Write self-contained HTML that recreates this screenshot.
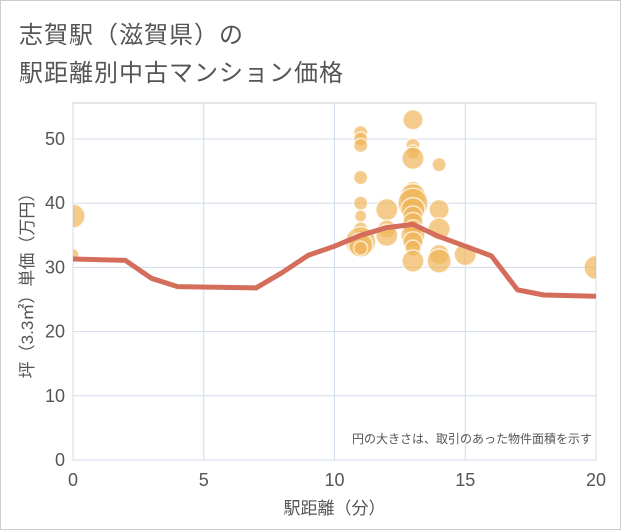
<!DOCTYPE html>
<html><head><meta charset="utf-8"><style>
body{margin:0;background:#fff;font-family:"Liberation Sans","Noto Sans CJK JP",sans-serif;}
#wrap{position:relative;width:619px;height:528px;border:1px solid #ccc;}
.t{position:absolute;left:18px;color:#555;font-size:24px;letter-spacing:1px;}
</style></head><body>
<div id="wrap">
<div class="t" style="top:14px">志賀駅（滋賀県）の</div>
<div class="t" style="top:52px">駅距離別中古マンション価格</div>
<svg id="c" width="621" height="530" style="position:absolute;left:-1px;top:-1px"><defs><clipPath id="pc"><rect x="73" y="103" width="523" height="357"/></clipPath></defs></svg>
</div>
<script>
const lineX=[0,2,3,4,7,8,9,10,11,12,13,14,15,16,17,18,20];
const lineY=[31.3,31.1,28.3,27,26.8,29.2,31.9,33.3,35,36.2,36.7,34.8,33.3,31.8,26.5,25.7,25.5];
const bubX=[0,0,11,11,11,11,11,11,11,11,11,11,11,12,12,12,13,13,13,13,13,13,13,13,13,13,13,13,13,13,13,14,14,14,14,14,15,20];
const bubY=[38,32,51,50,49,44,40,38,36,35,34,33.5,33,39,36,35,53,49,48,47,42,41,40,39,38,37,36,35,34,33,31,46,39,36,32,31,32,30];
const bubR=[12,6,7,7,7,7,7,6,7,6,15,12,7,11,9,11,10,7,7,11,9,13,15,12,10,10,9,12,10,8,11,7,10,11,10,12,11,12];
const xTicks=[0,5,10,15,20];
const yTicks=[0,10,20,30,40,50];
const L=73,R=596,T=103,B=460;
const sx=v=>L+(R-L)*v/20, sy=v=>B-(B-139)*v/50;
const svg=document.getElementById('c');const NS='http://www.w3.org/2000/svg';
function mk(t,a,p){const e=document.createElementNS(NS,t);for(const k in a)e.setAttribute(k,a[k]);(p||svg).appendChild(e);return e;}
const bg=mk('rect',{x:L,y:T,width:R-L,height:B-T,fill:'#fff',stroke:'#ccc'});


xTicks.forEach(v=>{const g=mk('line',{x1:sx(v),x2:sx(v),y1:T,y2:B,stroke:'#d0dce8'});


const t=mk('text',{x:sx(v),y:B+26,'text-anchor':'middle','font-size':18,fill:'#555'});t.textContent=v;

});
yTicks.forEach(v=>{const g=mk('line',{x1:L,x2:R,y1:sy(v),y2:sy(v),stroke:'#d0dce8'});


const t=mk('text',{x:L-8,y:sy(v)+6,'text-anchor':'end','font-size':18,fill:'#555'});t.textContent=v;

});
const cg=mk('g',{'clip-path':'url(#pc)'});
bubX.forEach((x,i)=>{const c=mk('circle',{cx:sx(x),cy:sy(bubY[i]),r:bubR[i],fill:'#efb55a','fill-opacity':0.7,stroke:'#fff','stroke-opacity':0.7,'stroke-width':1.5},cg);

});
const pl=mk('polyline',{points:lineX.map((x,i)=>sx(x)+','+sy(lineY[i])).join(' '),fill:'none',stroke:'#d46d5c','stroke-width':5,'stroke-linejoin':'round','clip-path':'url(#pc)'});


const xt=mk('text',{x:(L+R)/2,y:514,'text-anchor':'middle','font-size':17,fill:'#555'});xt.textContent='駅距離（分）';


const yt=mk('text',{x:0,y:0,'text-anchor':'middle','font-size':17,fill:'#555',transform:'translate(33,'+((T+B)/2)+') rotate(-90)'});yt.textContent='坪（3.3㎡）単価（万円）';


const nt=mk('text',{x:R-4,y:443,'text-anchor':'end','font-size':12,fill:'#555'});nt.textContent='円の大きさは、取引のあった物件面積を示す';


</script>
</body></html>
